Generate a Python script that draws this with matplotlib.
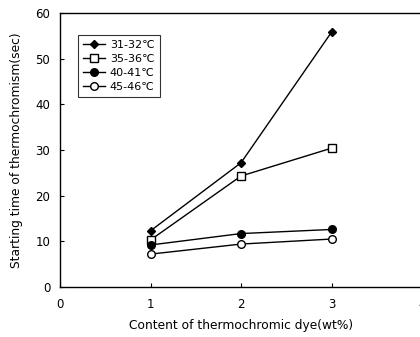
import matplotlib
matplotlib.use("Agg")
import matplotlib.pyplot as plt

plt.rcParams['font.family'] = ['DejaVu Sans', 'Noto Sans CJK KR']

content = [1, 2, 3]
series_labels = ["31-32℃", "35-36℃", "40-41℃", "45-46℃"]
s_31_32 = [12.3, 27.2, 55.8]
s_35_36 = [10.3, 24.3, 30.4]
s_40_41 = [9.2, 11.7, 12.6]
s_45_46 = [7.2, 9.4, 10.5]
xticks = [0, 1, 2, 3, 4]
yticks = [0, 10, 20, 30, 40, 50, 60]

fig = plt.figure(figsize=(4.2, 3.37), dpi=100)
ax = fig.add_axes([60/420, 1 - 287/337, 362/420, (287-13)/337])

styles = [
    dict(marker='D', markersize=4.0, mfc='black', mec='black'),
    dict(marker='s', markersize=5.5, mfc='white', mec='black'),
    dict(marker='o', markersize=5.5, mfc='black', mec='black'),
    dict(marker='o', markersize=5.5, mfc='white', mec='black'),
]
for data, lab, st in zip([s_31_32, s_35_36, s_40_41, s_45_46], series_labels, styles):
    ax.plot(content, data, color='black', lw=1.0, label=lab, **st)

ax.set_xlim(0, 4)
ax.set_ylim(0, 60)
ax.set_xticks(xticks)
ax.set_yticks(yticks)
ax.tick_params(direction='in', labelsize=8.5, length=3)
ax.tick_params(axis='x', pad=8)
ax.tick_params(axis='y', pad=7)
for s in ax.spines.values():
    s.set_linewidth(1.0)

ax.set_xlabel("Content of thermochromic dye(wt%)", fontsize=8.8, labelpad=6)
ax.set_ylabel("Starting time of thermochromism(sec)", fontsize=8.8, labelpad=9)

leg = ax.legend(loc='upper left', bbox_to_anchor=(0.035, 0.94), fontsize=8,
                frameon=True, fancybox=False, edgecolor='black',
                handlelength=2.0, handletextpad=0.4, borderpad=0.45,
                labelspacing=0.35)
leg.get_frame().set_linewidth(0.8)

fig.savefig("out.png", dpi=100)
